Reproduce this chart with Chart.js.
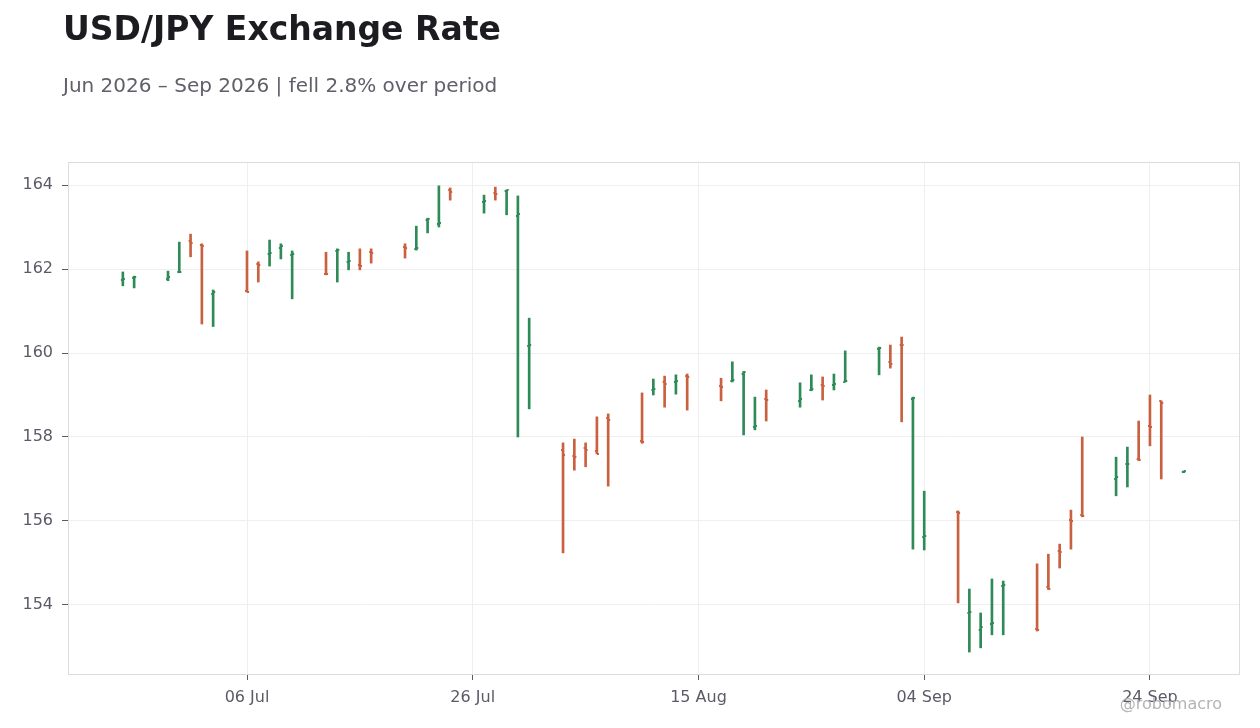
<!DOCTYPE html>
<html>
<head>
<meta charset="utf-8">
<title>USD/JPY Exchange Rate</title>
<script src="https://cdn.jsdelivr.net/npm/chart.js@4.4.1/dist/chart.umd.min.js"></script>
<style>
  body { margin: 0; background: #ffffff; font-family: 'DejaVu Sans', sans-serif; }
  #wrap { position: relative; width: 1260px; height: 728px; overflow: hidden; }
  #title { position: absolute; left: 63px; top: 12px; font-size: 33px; line-height: 1; font-weight: bold; color: #1b1b20; white-space: nowrap; }
  #subtitle { position: absolute; left: 63px; top: 75px; font-size: 20px; line-height: 1; color: #5f6069; white-space: nowrap; }
  #credit { position: absolute; right: 38px; top: 696px; font-size: 16px; line-height: 1; color: #b4b4b8; white-space: nowrap; }
  canvas { position: absolute; left: 0; top: 0; }
</style>
</head>
<body>
<div id="wrap">
  <canvas id="ohlc" width="1260" height="728"></canvas>
  <div id="title">USD/JPY Exchange Rate</div>
  <div id="subtitle">Jun 2026 – Sep 2026 | fell 2.8% over period</div>
  <div id="credit">@robomacro</div>
</div>
<script>
// daily bars
const dates = [
  '2026-06-25', '2026-06-26',
  '2026-06-29', '2026-06-30', '2026-07-01', '2026-07-02', '2026-07-03',
  '2026-07-06', '2026-07-07', '2026-07-08', '2026-07-09', '2026-07-10',
  '2026-07-13', '2026-07-14', '2026-07-15', '2026-07-16', '2026-07-17',
  '2026-07-20', '2026-07-21', '2026-07-22', '2026-07-23', '2026-07-24',
  '2026-07-27', '2026-07-28', '2026-07-29', '2026-07-30', '2026-07-31',
  '2026-08-03', '2026-08-04', '2026-08-05', '2026-08-06', '2026-08-07',
  '2026-08-10', '2026-08-11', '2026-08-12', '2026-08-13', '2026-08-14',
  '2026-08-17', '2026-08-18', '2026-08-19', '2026-08-20', '2026-08-21',
  '2026-08-24', '2026-08-25', '2026-08-26', '2026-08-27', '2026-08-28',
  '2026-08-31', '2026-09-01', '2026-09-02', '2026-09-03', '2026-09-04',
  '2026-09-07', '2026-09-08', '2026-09-09', '2026-09-10', '2026-09-11',
  '2026-09-14', '2026-09-15', '2026-09-16', '2026-09-17', '2026-09-18',
  '2026-09-21', '2026-09-22', '2026-09-23', '2026-09-24', '2026-09-25',
  '2026-09-27'
];
const opens = [
  161.75, 161.78,
  161.77, 161.92, 162.67, 162.57, 161.41,
  161.48, 162.12, 162.35, 162.50, 162.33,
  161.89, 162.42, 162.17, 162.10, 162.40,
  162.53, 162.48, 163.17, 163.07, 163.88,
  163.60, 163.80, 163.85, 163.26, 160.17,
  157.69, 157.54, 157.74, 157.67, 158.45,
  157.91, 159.12, 159.30, 159.31, 159.45,
  159.21, 159.33, 159.51, 158.24, 158.90,
  158.86, 159.13, 159.24, 159.24, 159.32,
  160.10, 159.78, 160.20, 158.90, 155.62,
  156.21, 153.82, 153.40, 153.55, 154.45,
  153.44, 154.42, 155.29, 156.03, 156.15,
  157.00, 157.35, 157.48, 158.27, 158.85,
  157.16
];
const highs = [
  161.93, 161.83,
  161.95, 162.64, 162.83, 162.60, 161.50,
  162.43, 162.17, 162.69, 162.60, 162.43,
  162.40, 162.48, 162.40, 162.48, 162.48,
  162.60, 163.02, 163.21, 163.98, 163.93,
  163.76, 163.95, 163.88, 163.74, 160.83,
  157.86, 157.95, 157.86, 158.48, 158.55,
  159.05, 159.38, 159.45, 159.48, 159.50,
  159.40, 159.79, 159.56, 158.95, 159.12,
  159.29, 159.48, 159.43, 159.50, 160.05,
  160.14, 160.19, 160.38, 158.95, 156.71,
  156.24, 154.38, 153.81, 154.62, 154.57,
  154.98, 155.21, 155.45, 156.26, 158.00,
  157.52, 157.76, 158.38, 159.00, 158.86,
  157.19
];
const lows = [
  161.60, 161.55,
  161.72, 161.91, 162.29, 160.69, 160.63,
  161.45, 161.69, 162.07, 162.24, 161.29,
  161.86, 161.69, 161.98, 161.98, 162.14,
  162.26, 162.45, 162.86, 163.00, 163.64,
  163.33, 163.64, 163.29, 158.00, 158.67,
  155.24, 157.21, 157.29, 157.60, 156.83,
  157.85, 159.00, 158.71, 159.02, 158.64,
  158.86, 159.31, 158.05, 158.17, 158.38,
  158.71, 159.10, 158.88, 159.12, 159.31,
  159.48, 159.64, 158.36, 155.33, 155.31,
  154.05, 152.88, 152.98, 153.29, 153.29,
  153.38, 154.37, 154.88, 155.33, 156.10,
  156.60, 156.81, 157.44, 157.79, 157.00,
  157.15
];
const closes = [
  161.77, 161.82,
  161.80, 161.94, 162.63, 162.55, 161.45,
  161.46, 162.10, 162.37, 162.55, 162.36,
  161.88, 162.45, 162.20, 162.07, 162.38,
  162.51, 162.51, 163.20, 163.10, 163.83,
  163.63, 163.78, 163.87, 163.31, 160.20,
  157.57, 157.52, 157.69, 157.60, 158.40,
  157.88, 159.14, 159.27, 159.34, 159.42,
  159.19, 159.35, 159.55, 158.27, 158.88,
  158.90, 159.15, 159.21, 159.27, 159.33,
  160.12, 159.75, 160.19, 158.93, 155.65,
  156.19, 153.84, 153.48, 153.58, 154.48,
  153.40, 154.38, 155.26, 156.00, 156.12,
  157.05, 157.36, 157.45, 158.25, 158.81,
  157.18
];
const tickDays = ['2026-07-06', '2026-07-26', '2026-08-15', '2026-09-04', '2026-09-24'];
const yTicks = [154, 156, 158, 160, 162, 164];

const UP = '#2e8b57';
const DOWN = '#c9603f';
const MONTHS = ['Jan', 'Feb', 'Mar', 'Apr', 'May', 'Jun', 'Jul', 'Aug', 'Sep', 'Oct', 'Nov', 'Dec'];
const DAY = 86400000;
const BASE = Date.UTC(2026, 6, 6);

// x axis runs on plain day numbers counted from 06 Jul
function dayOf(s) {
  const p = s.split('-');
  return (Date.UTC(+p[0], +p[1] - 1, +p[2]) - BASE) / DAY;
}
function dayLabel(v) {
  const d = new Date(BASE + Math.round(v) * DAY);
  return String(d.getUTCDate()).padStart(2, '0') + ' ' + MONTHS[d.getUTCMonth()];
}

// little open / close nubs used as point images
function nub(color, side) {
  const c = document.createElement('canvas');
  c.width = 6;
  c.height = 2;
  const g = c.getContext('2d');
  g.fillStyle = color;
  g.fillRect(side === 'left' ? 1 : 3, 0, 2, 2);
  return c;
}
const nubs = {
  up: { left: nub(UP, 'left'), right: nub(UP, 'right') },
  down: { left: nub(DOWN, 'left'), right: nub(DOWN, 'right') }
};

const xs = dates.map(dayOf);
const isUp = closes.map((c, i) => c >= opens[i]);
const colours = isUp.map(u => u ? UP : DOWN);

// frame round the plot area
const frame = {
  id: 'frame',
  beforeDatasetsDraw(chart) {
    const a = chart.chartArea;
    const ctx = chart.ctx;
    ctx.save();
    ctx.strokeStyle = '#dcdcdf';
    ctx.lineWidth = 1;
    ctx.strokeRect(Math.round(a.left) + 0.5, Math.round(a.top) + 0.5, Math.round(a.width), Math.round(a.height) - 1);
    ctx.restore();
  }
};

const tickFont = { family: 'DejaVu Sans', size: 16 };

new Chart(document.getElementById('ohlc'), {
  type: 'bar',
  data: {
    datasets: [
      {
        type: 'bar',
        data: xs.map((x, i) => ({ x: x, y: [lows[i], highs[i]] })),
        backgroundColor: colours,
        borderWidth: 0,
        barThickness: 2,
        grouped: false,
        order: 2
      },
      {
        type: 'line',
        data: xs.map((x, i) => ({ x: x, y: opens[i] })),
        showLine: false,
        pointStyle: isUp.map(u => u ? nubs.up.left : nubs.down.left),
        pointRadius: 3,
        order: 1
      },
      {
        type: 'line',
        data: xs.map((x, i) => ({ x: x, y: closes[i] })),
        showLine: false,
        pointStyle: isUp.map(u => u ? nubs.up.right : nubs.down.right),
        pointRadius: 3,
        order: 1
      }
    ]
  },
  options: {
    responsive: false,
    animation: false,
    layout: { padding: { top: 162, right: 21, left: 0, bottom: 0 } },
    plugins: {
      legend: { display: false },
      tooltip: { enabled: false }
    },
    scales: {
      x: {
        type: 'linear',
        offset: false,
        min: -15.86,
        max: 87.89,
        afterFit: s => { s.height = 53; },
        afterBuildTicks: s => { s.ticks = tickDays.map(d => ({ value: dayOf(d) })); },
        grid: { offset: false, color: '#efeff1', tickColor: '#5a5b66', tickLength: 5 },
        border: { display: false },
        ticks: { font: tickFont, color: '#5a5b66', padding: 8, maxRotation: 0, callback: v => dayLabel(v) }
      },
      y: {
        min: 152.333,
        max: 164.548,
        afterFit: s => { s.width = 68; },
        afterBuildTicks: s => { s.ticks = yTicks.map(v => ({ value: v })); },
        grid: { color: '#efeff1', tickColor: '#5a5b66', tickLength: 6 },
        border: { display: false },
        ticks: { font: tickFont, color: '#5a5b66', padding: 9, callback: v => String(v) }
      }
    }
  },
  plugins: [frame]
});
</script>
</body>
</html>
